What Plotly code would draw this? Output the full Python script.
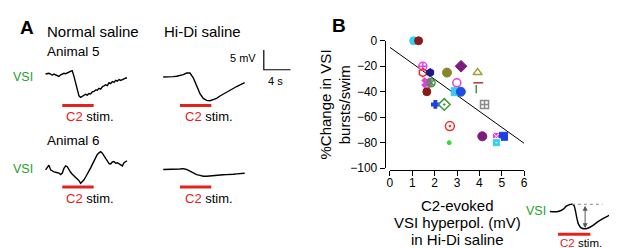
import plotly.graph_objects as go

# ================= DATA =================
# Panel A: VSI membrane potential (mV, relative to baseline) vs time (s)
T_FINE = [0, 0.25, 0.5, 0.75, 1, 1.25, 1.5, 1.75, 2, 2.25, 2.5, 2.75, 3, 3.25, 3.5, 3.75,
          4, 4.25, 4.5, 4.75, 5, 5.25, 5.5, 5.75, 6, 6.25, 6.5, 6.75, 7, 7.25, 7.5, 7.75,
          8, 8.25, 8.5, 8.75, 9, 9.25, 9.5, 9.75, 10, 10.25, 10.5, 10.75, 11, 11.25, 11.5,
          11.75, 12, 12.2]
V_NORMAL_ANIMAL5 = [0.1, 0.2, 0.3, 0.1, -0.2, 0.1, -0.1, -0.3, -0.5, -0.1, 0.1, 0.3, 0.2, 0.5,
                    0.6, 0.8, 0.9, -0.5, -2.3, -4.2, -5.4, -5.8, -5.5, -5.3, -5.0, -5.2, -4.8,
                    -4.9, -4.4, -4.3, -3.9, -4.0, -3.5, -3.7, -3.1, -2.9, -2.6, -2.8, -2.1, -2.3,
                    -1.8, -2.0, -1.5, -1.7, -1.3, -1.5, -1.2, -1.1, -0.9, -0.9]
V_NORMAL_ANIMAL6 = [-0.2, 0.4, 1.0, -0.2, -0.5, -0.7, -0.8, -0.9, -1.0, -1.4, -1.0, 0.2, 0.8, 0.6,
                    -0.2, -0.8, -1.3, -1.6, -2.1, -2.5, -2.9, -3.6, -3.2, -2.7, -2.0, -1.3, -0.5,
                    0.3, 1.2, 2.0, 3.0, 3.7, 4.1, 4.4, 4.0, 3.2, 2.7, 2.1, 1.4, 1.3, 1.8, 1.9,
                    1.5, 1.6, 1.3, 1.0, 0.8, 1.6, 2.0, 2.1]
T_COARSE = [0, 0.5, 1, 1.5, 2, 2.5, 3, 3.5, 4, 4.5, 5, 5.5, 6, 6.5, 7, 7.5, 8, 8.5, 9, 9.5,
            10, 10.5, 11, 11.5, 12, 12.2]
V_HIDI_ANIMAL5 = [0, 0, 0.1, 0.1, 0.2, 0.4, 0.6, 1.0, 1.0, -0.2, -2.2, -4.2, -5.4, -5.9, -6.0,
                  -5.7, -5.4, -4.8, -4.3, -3.7, -3.3, -2.9, -2.4, -2.0, -1.6, -1.4]
V_HIDI_ANIMAL6 = [0, 0, 0, 0, 0.05, 0.1, 0.2, 0, -0.4, -0.9, -1.3, -1.5, -1.7, -1.7, -1.6, -1.5,
                  -1.5, -1.45, -1.35, -1.3, -1.3, -1.2, -1.1, -1.05, -1.0, -0.95]
STIM_ON, STIM_OFF = 2.5, 7.2          # C2 stimulation window (s)
SCALE_MV, SCALE_S = 5, 4              # scale bar

# Inset schematic (arbitrary units)
U_INSET = [0, 8.3, 13.3, 16.7, 20, 22.3, 24.3, 25.7, 27.3, 29, 31.7, 35, 38.3, 43.3, 48.3,
           53.3, 58.3, 63.3, 68.3, 72]
V_INSET = [0, 0, 2.3, 5.7, 7.3, 7.7, 6.7, 1.7, -6.7, -13.3, -17.3, -18.3, -17.7, -15, -11,
           -7.7, -5, -2.3, 0, 1.7]
INSET_STIM = [8.3, 41]
INSET_PEAK = [22.3, 7.7]
INSET_DOT_END = 53.3
INSET_ARROW_U = 35.7
INSET_TROUGH = -17.7

# Panel B: C2-evoked VSI hyperpolarization (mV) vs % change in VSI bursts/swim
HYPERPOL_MV = [1.06, 1.28, 1.47, 1.47, 1.80, 2.55, 3.18, 3.92, 1.65, 1.84, 2.99, 3.95, 1.65,
               2.92, 3.17, 3.86, 2.03, 2.43, 4.23, 2.68, 4.13, 4.76, 5.08, 4.76, 2.65]
PCT_CHANGE = [0, 0, -20, -25, -25, -25, -20, -25, -33, -33, -33, -33, -40, -40, -40, -38,
              -50, -50, -50, -67, -75, -75, -75, -80, -80]
FIT_X = [0, 6]
FIT_Y = [-5.2, -80.5]
X_TICKS = [0, 1, 2, 3, 4, 5, 6]
Y_TICKS = [0, -20, -40, -60, -80, -100]

# ================= STYLE =================
SYMBOLS = ['circle', 'circle', 'circle-cross-open', 'hexagon-open', 'hexagon', 'circle',
           'diamond', 'triangle-up-open', 'x', 'circle-x-open', 'circle-open', 'line-ew-open',
           'circle', 'square', 'circle', 'line-ns-open', 'cross', 'diamond-open-dot',
           'square-cross-open', 'circle-open-dot', 'circle', 'square-x', 'square', 'square-dot',
           'circle']
COLORS = ['#2fd3f3', '#8b1a1a', '#e440e4', '#e8302a', '#1a1a86', '#86862a', '#7d1b7e',
          '#a0a03a', '#e040e0', '#3c9a3c', '#e040e0', '#b03535', '#8b1a1a', '#3cc8f0',
          '#1f4fe0', '#3c9a3c', '#1f3fe0', '#3c9a3c', '#8a8a8a', '#e8302a', '#7d1b7e',
          '#e83ce8', '#1f3fe0', '#35d0f0', '#33dd33']
SIZES = [8, 8, 8, 8, 8, 9, 9, 8, 8, 8, 8, 7, 8, 8, 9, 6, 6, 9, 8, 9, 9, 8, 8, 8, 4]
LINE_COLORS = list(COLORS)
LINE_COLORS[21] = 'white'
LINE_COLORS[23] = 'white'
LINE_WIDTHS = [1.5 if ('open' in s or s in ('x', 'cross')) else 1 for s in SYMBOLS]
LINE_WIDTHS[21] = 1
LINE_WIDTHS[23] = 1

W, H = 617, 248
FONT = 'Liberation Sans, Arial, sans-serif'
RED = '#e8201c'
GREEN = '#22a02a'
PX_PER_S, PX_PER_MV = 6.75, 4.2


def fx(px):
    return px / W


def fy(py):
    return 1 - py / H


def axes_for(box, origin, sx, sy):
    x0, x1, y0, y1 = box
    ox, oy = origin
    return dict(xdom=[fx(x0), fx(x1)], ydom=[fy(y1), fy(y0)],
                xr=[(x0 - ox) / sx, (x1 - ox) / sx], yr=[(oy - y1) / sy, (oy - y0) / sy])


# pixel boxes and origins (t=0, V=0) for each trace panel
PANELS = {
    1: axes_for((30, 125, 48, 106), (35, 63), PX_PER_S, PX_PER_MV),
    2: axes_for((148, 292, 30, 106), (154, 65.7), PX_PER_S, PX_PER_MV),
    3: axes_for((30, 125, 135, 190), (35, 163.3), PX_PER_S, PX_PER_MV),
    4: axes_for((148, 240, 150, 190), (154, 163.7), PX_PER_S, PX_PER_MV),
    6: axes_for((538, 617, 190, 238), (545, 208.3), 1, 1),
}
STIM_PY = {1: 96, 2: 96, 3: 182.3, 4: 182.3}
ORIGIN_PY = {1: 63, 2: 65.7, 3: 163.3, 4: 163.7}


def ref(n, a):
    return a if n == 1 else f'{a}{n}'


fig = go.Figure()

traces_A = {1: (T_FINE, V_NORMAL_ANIMAL5), 2: (T_COARSE, V_HIDI_ANIMAL5),
            3: (T_FINE, V_NORMAL_ANIMAL6), 4: (T_COARSE, V_HIDI_ANIMAL6)}
for n, (t, v) in traces_A.items():
    fig.add_trace(go.Scatter(x=t, y=v, mode='lines', line=dict(color='black', width=1.4),
                             xaxis=ref(n, 'x'), yaxis=ref(n, 'y'), hoverinfo='skip'))
    lvl = (ORIGIN_PY[n] - STIM_PY[n]) / PX_PER_MV
    fig.add_trace(go.Scatter(x=[STIM_ON, STIM_OFF], y=[lvl, lvl], mode='lines',
                             line=dict(color=RED, width=3),
                             xaxis=ref(n, 'x'), yaxis=ref(n, 'y'), hoverinfo='skip'))

# scale bar in panel 2 coordinates
sb_t = (255.7 - 154) / PX_PER_S
sb_v = (65.7 - 58) / PX_PER_MV
fig.add_trace(go.Scatter(x=[sb_t, sb_t, sb_t + SCALE_S], y=[sb_v + SCALE_MV, sb_v, sb_v],
                         mode='lines', line=dict(color='black', width=1.2),
                         xaxis='x2', yaxis='y2', hoverinfo='skip'))

# inset
fig.add_trace(go.Scatter(x=U_INSET, y=V_INSET, mode='lines', line=dict(color='black', width=1.4,
                         shape='spline'), xaxis='x6', yaxis='y6', hoverinfo='skip'))
fig.add_trace(go.Scatter(x=INSET_STIM, y=[-24, -24], mode='lines', line=dict(color=RED, width=3),
                         xaxis='x6', yaxis='y6', hoverinfo='skip'))
fig.add_trace(go.Scatter(x=[INSET_PEAK[0], INSET_DOT_END], y=[INSET_PEAK[1], INSET_PEAK[1]],
                         mode='lines', line=dict(color='#888888', width=1, dash='dot'),
                         xaxis='x6', yaxis='y6', hoverinfo='skip'))

# panel B
fig.add_trace(go.Scatter(x=FIT_X, y=FIT_Y, mode='lines', line=dict(color='black', width=1),
                         xaxis='x5', yaxis='y5', hoverinfo='skip'))
fig.add_trace(go.Scatter(x=HYPERPOL_MV, y=PCT_CHANGE, mode='markers', cliponaxis=False,
                         marker=dict(symbol=SYMBOLS, color=COLORS, size=SIZES, opacity=1,
                                     line=dict(color=LINE_COLORS, width=LINE_WIDTHS)),
                         xaxis='x5', yaxis='y5'))

layout = dict(width=W, height=H, margin=dict(l=0, r=0, t=0, b=0),
              paper_bgcolor='white', plot_bgcolor='rgba(0,0,0,0)', showlegend=False,
              font=dict(family=FONT, color='black'))

for n, p in PANELS.items():
    layout['xaxis' if n == 1 else f'xaxis{n}'] = dict(domain=p['xdom'], range=p['xr'],
                                                      visible=False, anchor=ref(n, 'y'))
    layout['yaxis' if n == 1 else f'yaxis{n}'] = dict(domain=p['ydom'], range=p['yr'],
                                                      visible=False, anchor=ref(n, 'x'))

axis_common = dict(showgrid=False, zeroline=False, showline=True, linecolor='black',
                   linewidth=1, ticks='outside', ticklen=5, tickwidth=1, tickcolor='black',
                   tickfont=dict(size=12, family=FONT, color='black'))
layout['xaxis5'] = dict(domain=[fx(383.3), fx(519)], range=[0, 6], tickvals=X_TICKS,
                        anchor='free', position=fy(164), ticklabelstandoff=-3, **axis_common)
layout['yaxis5'] = dict(domain=[fy(162.3), fy(27.3)], range=[-100, 0], tickvals=Y_TICKS,
                        anchor='free', position=fx(378), **axis_common)

annots = []


def ann(text, px, py, size, xanchor='center', color='black', angle=0):
    annots.append(dict(text=text, x=fx(px), y=fy(py), xref='paper', yref='paper',
                       xanchor=xanchor, yanchor='middle', showarrow=False, textangle=angle,
                       font=dict(size=size, color=color, family=FONT), borderpad=0))


STIM_TXT = f'<span style="color:{RED}">C2</span> stim.'
ann('<b>A</b>', 16, 13, 19)
ann('<b>B</b>', 331.5, 11, 19)
ann('Normal saline', 35, 17, 15, 'left')
ann('Hi-Di saline', 154, 17, 15, 'left')
ann('Animal 5', 35, 39, 13.5, 'left')
ann('Animal 6', 35, 133, 13.5, 'left')
ann('VSI', 1, 66, 12.5, 'left', GREEN)
ann('VSI', 1, 163, 12.5, 'left', GREEN)
ann(STIM_TXT, 55, 108, 13, 'left')
ann(STIM_TXT, 175, 108, 13, 'left')
ann(STIM_TXT, 55, 194, 13, 'left')
ann(STIM_TXT, 175, 194, 13, 'left')
ann('5 mV', 249, 46, 11, 'right')
ann('4 s', 268, 70, 11)
ann('%Change in VSI', 318.5, 95, 15, angle=-90)
ann('bursts/swim', 337.5, 95, 15, angle=-90)
ann('C2-evoked', 452, 202, 15)
ann('VSI hyperpol. (mV)', 452, 220, 15)
ann('in Hi-Di saline', 452, 238, 15)
ann('VSI', 542, 208, 12.5, 'right', GREEN)
ann(STIM_TXT, 576.5, 241.5, 11.5)

# double-headed arrow in the inset
annots.append(dict(x=INSET_ARROW_U, y=INSET_TROUGH, ax=INSET_ARROW_U, ay=INSET_PEAK[1],
                   xref='x6', yref='y6', axref='x6', ayref='y6', text='', showarrow=True,
                   arrowhead=2, startarrowhead=2, arrowside='end+start', arrowsize=1,
                   arrowwidth=1, arrowcolor='#555555'))

layout['annotations'] = annots
fig.update_layout(**layout)
fig.write_html('out.html')
